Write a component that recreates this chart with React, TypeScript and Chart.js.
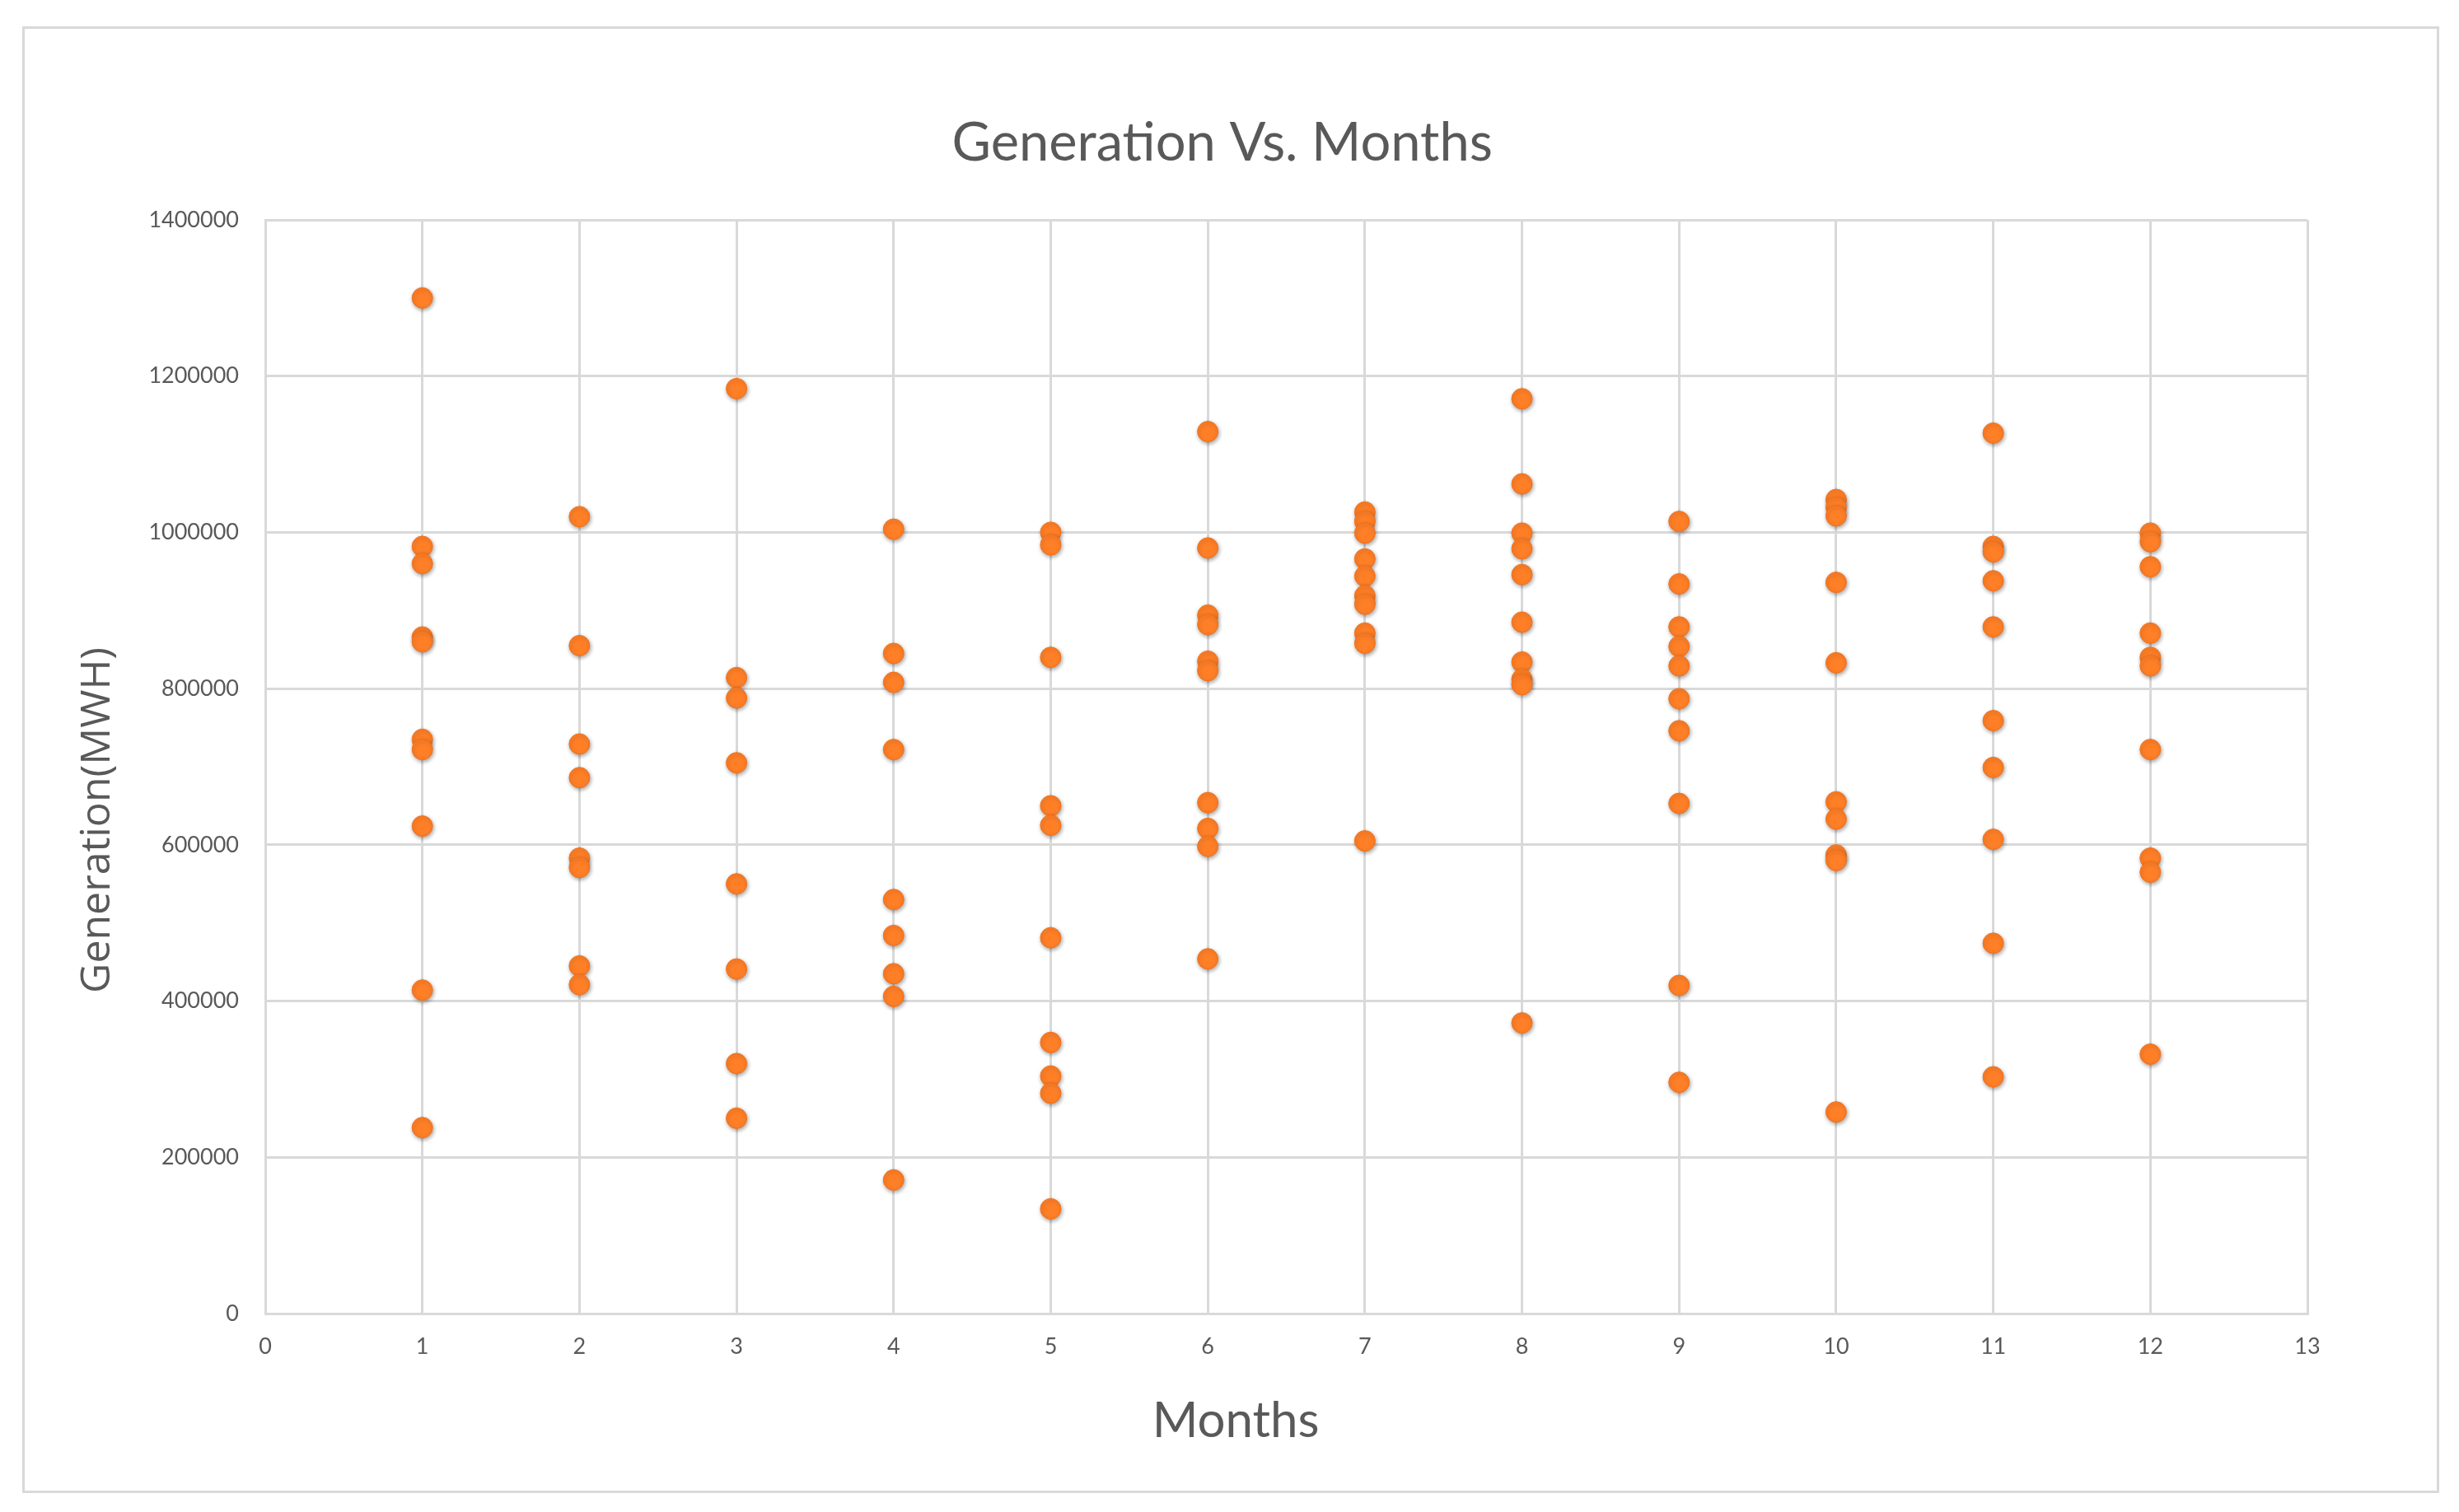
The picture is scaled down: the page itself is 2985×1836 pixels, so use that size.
import React, { useEffect, useRef } from "react";
import { Chart, registerables } from "chart.js";

Chart.register(...registerables);

// ---- Data ----
const months = [1, 2, 3, 4, 5, 6, 7, 8, 9, 10, 11, 12];

const month1Generation = [1300000, 982000, 960000, 866000, 860000, 735000, 722000, 624000, 414000, 238000];
const month2Generation = [1020000, 855000, 729000, 686000, 583000, 571000, 445000, 421000];
const month3Generation = [1184000, 814000, 788000, 705000, 550000, 441000, 320000, 250000];
const month4Generation = [1004000, 845000, 808000, 722000, 530000, 484000, 435000, 406000, 171000];
const month5Generation = [1000000, 984000, 840000, 650000, 625000, 481000, 347000, 304000, 282000, 134000];
const month6Generation = [1129000, 980000, 894000, 882000, 835000, 823000, 654000, 621000, 598000, 454000];
const month7Generation = [1026000, 1014000, 999000, 966000, 944000, 919000, 908000, 871000, 858000, 605000];
const month8Generation = [1171000, 1062000, 999000, 979000, 946000, 885000, 834000, 812000, 805000, 372000];
const month9Generation = [1014000, 934000, 879000, 854000, 829000, 787000, 746000, 653000, 420000, 296000];
const month10Generation = [1042000, 1032000, 1021000, 936000, 833000, 655000, 633000, 587000, 580000, 258000];
const month11Generation = [1127000, 982000, 975000, 938000, 879000, 759000, 699000, 607000, 474000, 303000];
const month12Generation = [999000, 988000, 956000, 871000, 840000, 829000, 722000, 583000, 565000, 332000];

const generationByMonth = [
  month1Generation, month2Generation, month3Generation, month4Generation,
  month5Generation, month6Generation, month7Generation, month8Generation,
  month9Generation, month10Generation, month11Generation, month12Generation,
];

const xAxisMin = 0;
const xAxisMax = 13;
const xAxisStep = 1;
const yAxisMin = 0;
const yAxisMax = 1400000;
const yAxisStep = 200000;

const chartTitle = "Generation Vs. Months";
const xAxisTitle = "Months";
const yAxisTitle = "Generation(MWH)";

// ---- Layout constants ----
const W = 2985;
const H = 1836;
const PLOT_LEFT = 322;
const PLOT_RIGHT = 2801;
const PLOT_TOP = 267;
const PLOT_BOTTOM = 1595;

const TEXT = "#595959";
const GRID = "#d9d9d9";

const shadowPlugin = {
  id: "dotShadow",
  beforeDatasetsDraw(chart: any) {
    const ctx = chart.ctx;
    ctx.save();
    ctx.shadowColor = "rgba(0,0,0,0.35)";
    ctx.shadowBlur = 5;
    ctx.shadowOffsetX = 1;
    ctx.shadowOffsetY = 2;
  },
  afterDatasetsDraw(chart: any) {
    chart.ctx.restore();
  },
};

const pad = (n: number) => " ".repeat(n);

export default function App() {
  const canvasRef = useRef<HTMLCanvasElement | null>(null);

  useEffect(() => {
    const canvas = canvasRef.current;
    if (!canvas) return;

    const points = months.flatMap((m, i) =>
      generationByMonth[i].map((v) => ({ x: m, y: v }))
    );

    const titleSize = 65;
    const titleLH = titleSize * 1.2;
    const titlePadTop = 174 - titleLH / 2;
    const titlePadBottom = PLOT_TOP - titlePadTop - titleLH;

    const xTitleSize = 60;
    const xTitleLH = xTitleSize * 1.2;
    const xTitlePadBottom = H - xTitleLH / 2 - 1726;

    const yTitleSize = 50;
    const yTitleLH = yTitleSize * 1.2;
    const yTitlePadTop = 119 - yTitleLH / 2;

    const chart = new Chart(canvas, {
      type: "scatter",
      data: {
        datasets: [
          {
            label: "Generation",
            data: points,
            backgroundColor: "#FF7F27",
            borderColor: "#F2721C",
            borderWidth: 1,
            pointRadius: 12.5,
            pointHoverRadius: 12.5,
          },
        ],
      },
      options: {
        animation: false,
        responsive: false,
        devicePixelRatio: 1,
        events: [],
        layout: {
          padding: { left: 0, right: W - PLOT_RIGHT, top: 0, bottom: 0 },
        },
        plugins: {
          legend: { display: false },
          tooltip: { enabled: false },
          title: {
            display: true,
            text: pad(10) + chartTitle,
            color: TEXT,
            font: { family: "Lato", size: titleSize, weight: "normal" },
            padding: { top: titlePadTop, bottom: titlePadBottom },
          },
        },
        scales: {
          x: {
            type: "linear",
            min: xAxisMin,
            max: xAxisMax,
            afterFit: (scale: any) => {
              scale.height = H - PLOT_BOTTOM;
            },
            ticks: {
              stepSize: xAxisStep,
              color: TEXT,
              font: { family: "Lato", size: 27 },
              padding: 24,
              maxRotation: 0,
            },
            grid: { color: GRID, lineWidth: 3, drawTicks: false },
            border: { color: GRID, width: 3 },
            title: {
              display: true,
              text: xAxisTitle + pad(8),
              color: TEXT,
              font: { family: "Lato", size: xTitleSize, weight: "normal" },
              padding: { top: 0, bottom: xTitlePadBottom },
            },
          },
          y: {
            type: "linear",
            min: yAxisMin,
            max: yAxisMax,
            afterFit: (scale: any) => {
              scale.width = PLOT_LEFT;
            },
            ticks: {
              stepSize: yAxisStep,
              color: TEXT,
              font: { family: "Lato", size: 27 },
              padding: 32,
              callback: (v: any) => String(v),
            },
            grid: { color: GRID, lineWidth: 3, drawTicks: false },
            border: { color: GRID, width: 3 },
            title: {
              display: true,
              text: yAxisTitle + pad(10),
              color: TEXT,
              font: { family: "Open Sans", size: yTitleSize, weight: "normal" },
              padding: { top: yTitlePadTop, bottom: 0 },
            },
          },
        },
      },
      plugins: [shadowPlugin],
    } as any);

    return () => chart.destroy();
  }, []);

  return (
    <div
      style={{
        position: "fixed",
        left: 0,
        top: 0,
        width: W,
        height: H,
        background: "#ffffff",
        overflow: "hidden",
      }}
    >
      <canvas
        ref={canvasRef}
        width={W}
        height={H}
        style={{ position: "absolute", left: 0, top: 0, width: W, height: H }}
      />
      <div
        style={{
          position: "absolute",
          left: 27,
          top: 32,
          width: 2934,
          height: 1781,
          border: "3px solid #d9d9d9",
          boxSizing: "border-box",
          pointerEvents: "none",
        }}
      />
    </div>
  );
}
